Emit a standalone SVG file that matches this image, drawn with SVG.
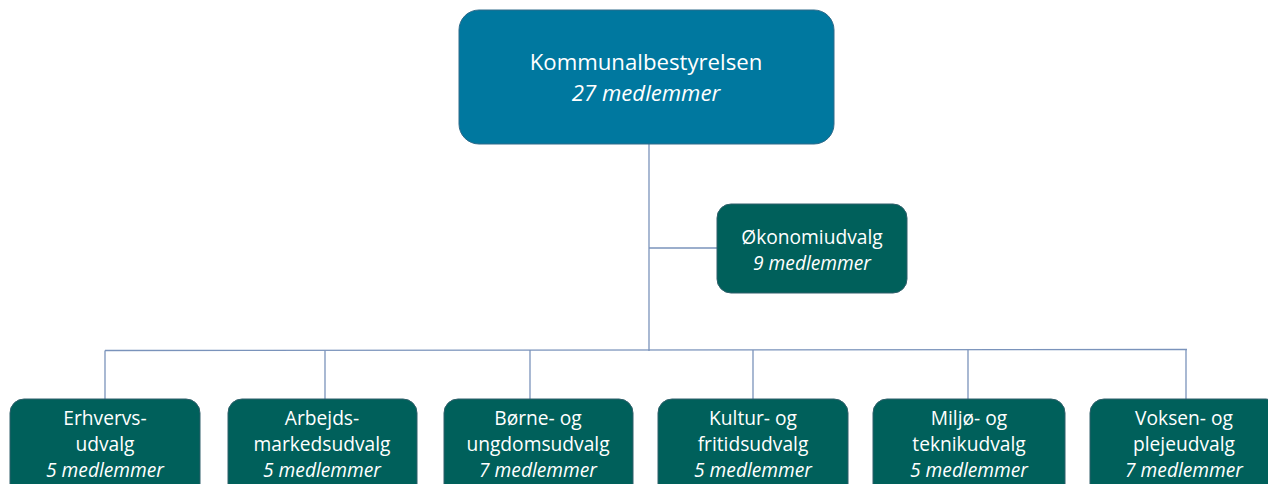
<svg xmlns="http://www.w3.org/2000/svg" width="1268" height="484" viewBox="0 0 1268 484">
<style>
.top{fill:#00789f;stroke:#2e6a8a;stroke-width:1}
.sub{fill:#00605b;stroke:#2f5f6a;stroke-width:1}
.t{font-family:"Open Sans","Noto Sans",sans-serif;fill:#ffffff;text-anchor:middle}
.big{font-size:22.2px}
.mid{font-size:19.2px}
.it{font-style:italic}
.ln{stroke:#7a93bb;stroke-width:1.3;fill:none}
</style>
<rect width="1268" height="484" fill="#ffffff"/>
<g id="connectors">
<line class="ln" x1="649" y1="144" x2="649" y2="351"/>
<line class="ln" x1="649" y1="248" x2="717" y2="248"/>
<line class="ln" x1="105" y1="350.5" x2="1187" y2="349.5"/>
<line class="ln" x1="105" y1="350.5" x2="105" y2="399"/>
<line class="ln" x1="325" y1="350.5" x2="325" y2="399"/>
<line class="ln" x1="530" y1="350" x2="530" y2="399"/>
<line class="ln" x1="753" y1="350" x2="753" y2="399"/>
<line class="ln" x1="968" y1="350" x2="968" y2="399"/>
<line class="ln" x1="1186" y1="349.5" x2="1186" y2="399"/>
</g>
<g id="kommunalbestyrelsen">
<rect class="top" x="459" y="10" width="375" height="134" rx="20"/>
<text class="t big" x="646" y="70">Kommunalbestyrelsen</text>
<text class="t big it" x="646" y="101">27 medlemmer</text>
</g>
<g id="okonomiudvalg">
<rect class="sub" x="717" y="204" width="190" height="89" rx="14"/>
<text class="t mid" x="812" y="244">Økonomiudvalg</text>
<text class="t mid it" x="812" y="270">9 medlemmer</text>
</g>
<g id="erhvervsudvalg">
<rect class="sub" x="10" y="399" width="190" height="100" rx="14"/>
<text class="t mid" x="105" y="425">Erhvervs-</text>
<text class="t mid" x="105" y="451">udvalg</text>
<text class="t mid it" x="105" y="477">5 medlemmer</text>
</g>
<g id="arbejdsmarkedsudvalg">
<rect class="sub" x="228" y="399" width="189" height="100" rx="14"/>
<text class="t mid" x="322" y="425">Arbejds-</text>
<text class="t mid" x="322" y="451">markedsudvalg</text>
<text class="t mid it" x="322" y="477">5 medlemmer</text>
</g>
<g id="borne-og-ungdomsudvalg">
<rect class="sub" x="444" y="399" width="189" height="100" rx="14"/>
<text class="t mid" x="538" y="425">Børne- og</text>
<text class="t mid" x="538" y="451">ungdomsudvalg</text>
<text class="t mid it" x="538" y="477">7 medlemmer</text>
</g>
<g id="kultur-og-fritidsudvalg">
<rect class="sub" x="658" y="399" width="190" height="100" rx="14"/>
<text class="t mid" x="753" y="425">Kultur- og</text>
<text class="t mid" x="753" y="451">fritidsudvalg</text>
<text class="t mid it" x="753" y="477">5 medlemmer</text>
</g>
<g id="miljo-og-teknikudvalg">
<rect class="sub" x="873" y="399" width="192" height="100" rx="14"/>
<text class="t mid" x="969" y="425">Miljø- og</text>
<text class="t mid" x="969" y="451">teknikudvalg</text>
<text class="t mid it" x="969" y="477">5 medlemmer</text>
</g>
<g id="voksen-og-plejeudvalg">
<rect class="sub" x="1090" y="399" width="190" height="100" rx="14"/>
<text class="t mid" x="1184" y="425">Voksen- og</text>
<text class="t mid" x="1184" y="451">plejeudvalg</text>
<text class="t mid it" x="1184" y="477">7 medlemmer</text>
</g>
</svg>
